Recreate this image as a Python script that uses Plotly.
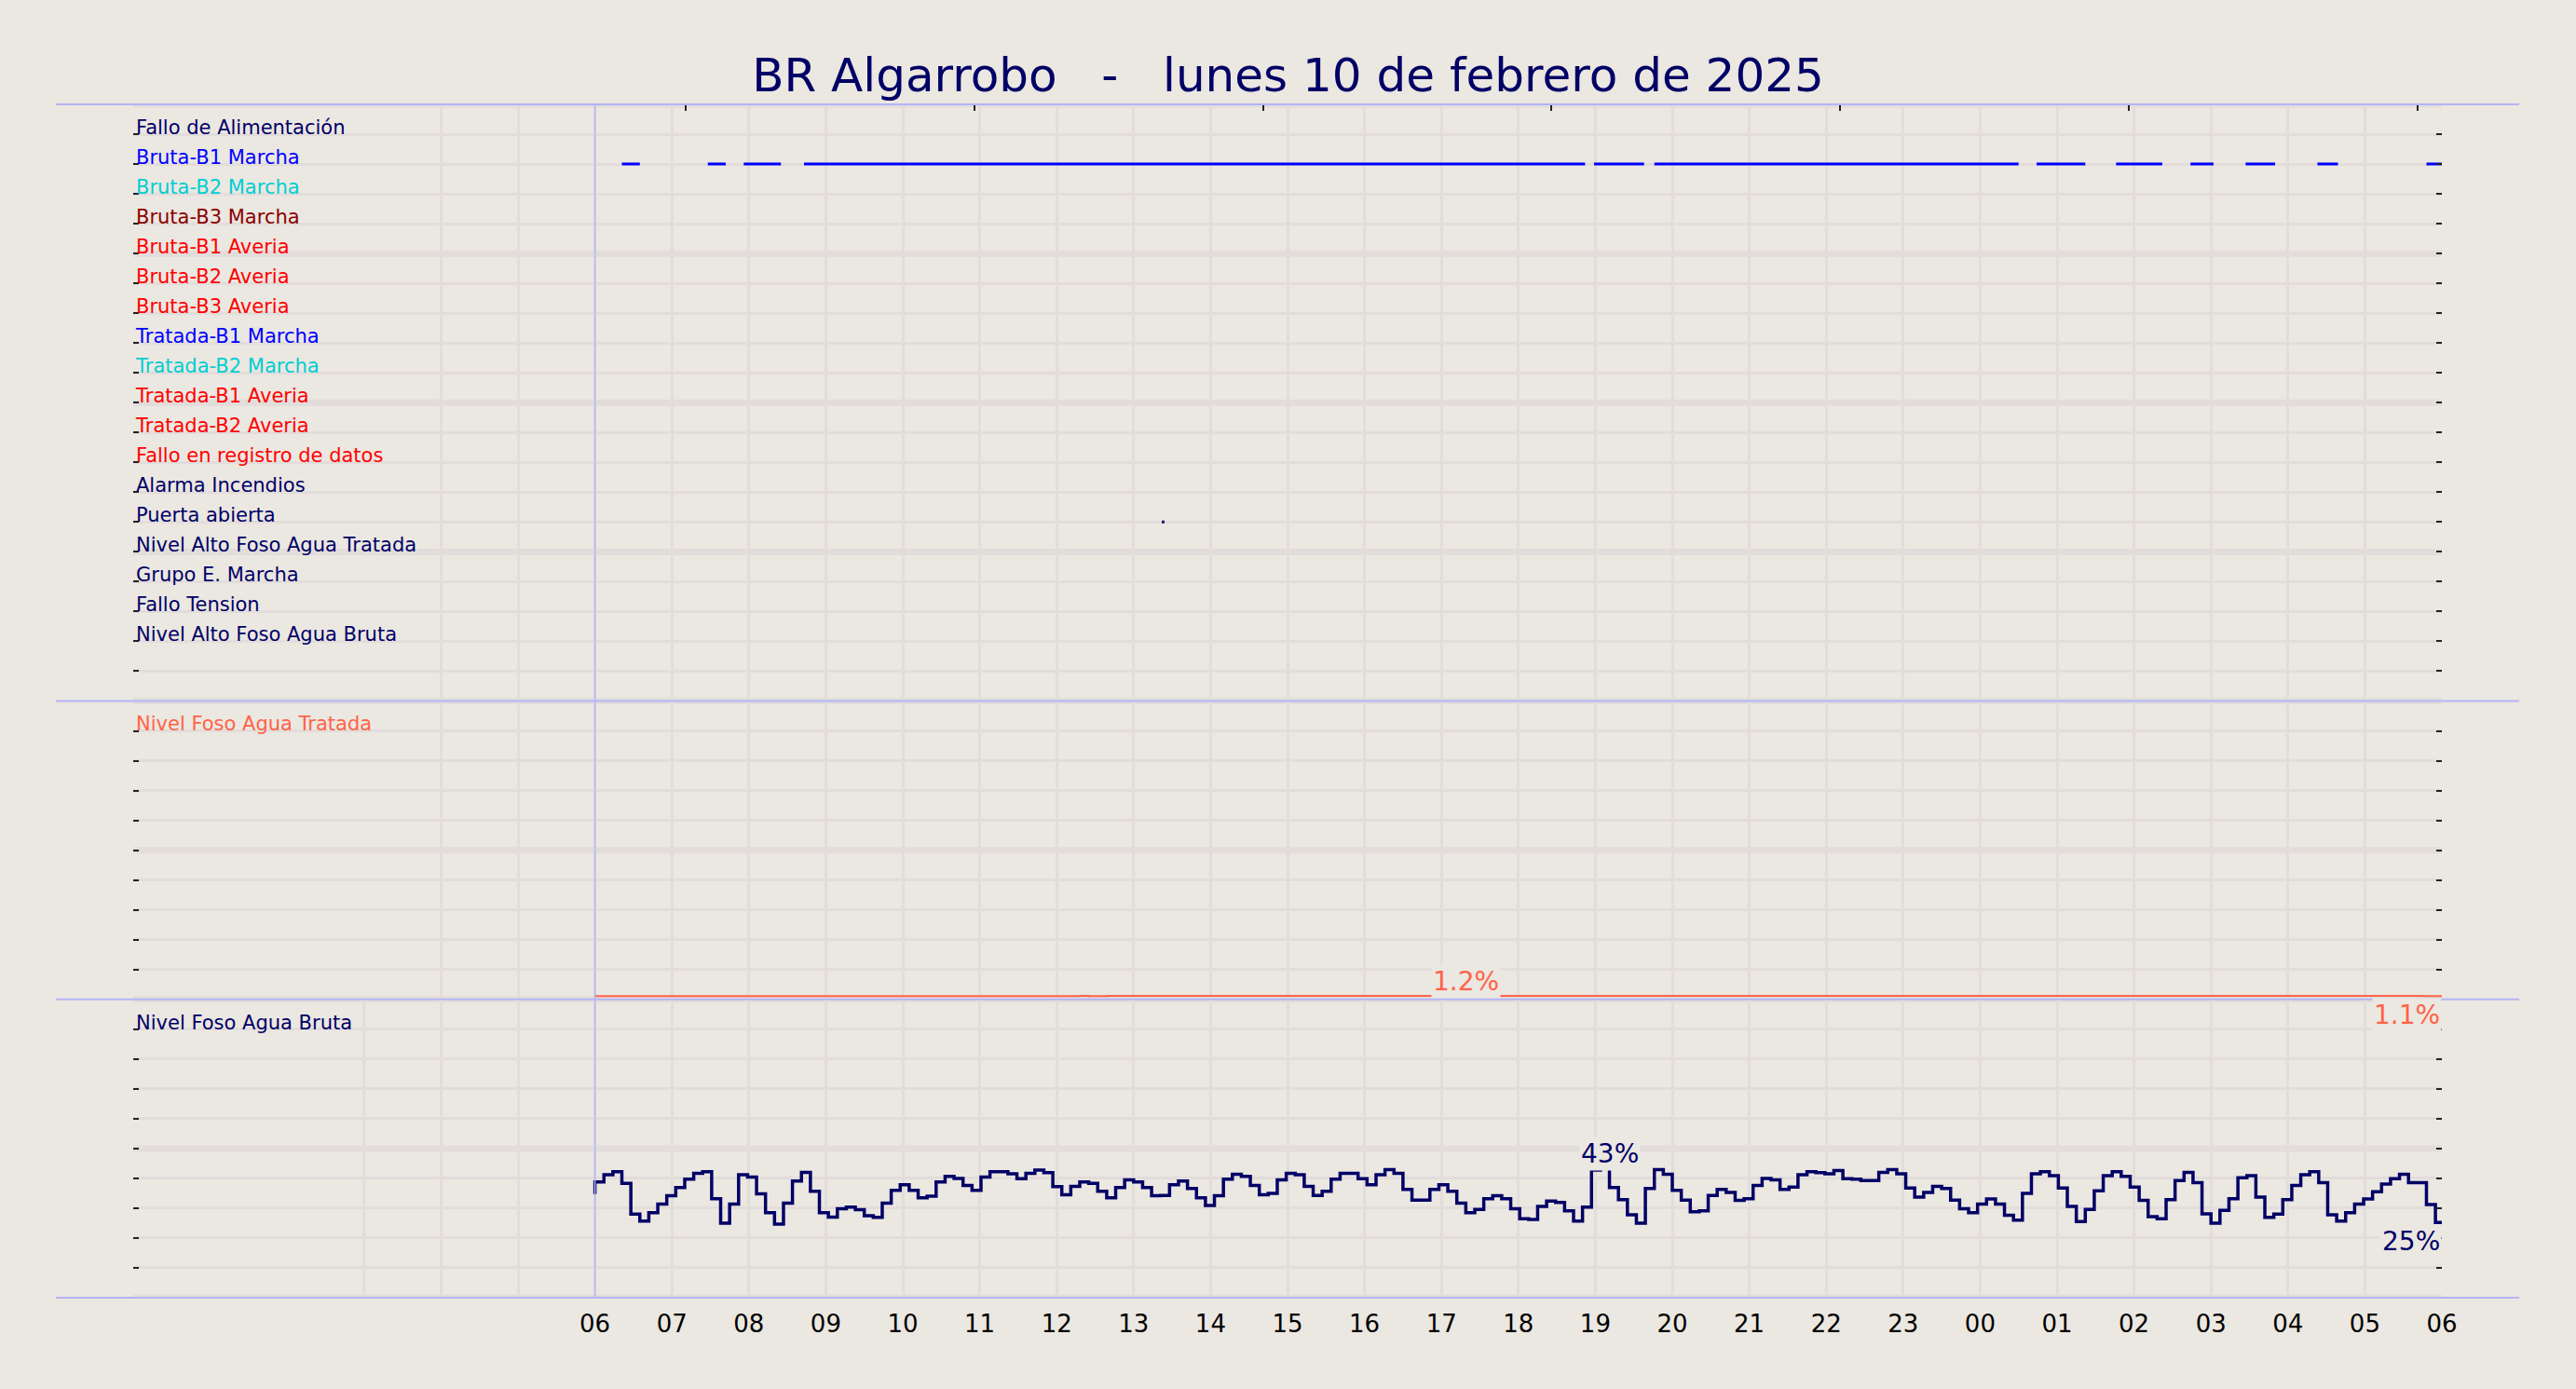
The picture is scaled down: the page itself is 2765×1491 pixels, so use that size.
import pandas as pd
import plotly.graph_objects as go
from plotly.subplots import make_subplots

# ---- colours -------------------------------------------------------------
BG = "#ebe7e1"
GRID = "#e2dddb"
SEP = "#b4b4f6"
NAVY = "#000066"
BLUE = "#0000ff"
CYAN = "#00ced1"
DARKRED = "#8b0000"
RED = "#ff0000"
TOMATO = "#ff6347"
FONT = "DejaVu Sans"

DAY0 = "2025-02-10 00:00"
DAY_START = "2025-02-10 06:00"
DAY_END = "2025-02-11 06:00"

# ---- digital signals (top to bottom, y = 19 .. 2) -------------------------
signal_labels = [
    "Fallo de Alimentación", "Bruta-B1 Marcha", "Bruta-B2 Marcha",
    "Bruta-B3 Marcha", "Bruta-B1 Averia", "Bruta-B2 Averia",
    "Bruta-B3 Averia", "Tratada-B1 Marcha", "Tratada-B2 Marcha",
    "Tratada-B1 Averia", "Tratada-B2 Averia", "Fallo en registro de datos",
    "Alarma Incendios", "Puerta abierta", "Nivel Alto Foso Agua Tratada",
    "Grupo E. Marcha", "Fallo Tension", "Nivel Alto Foso Agua Bruta",
]
signal_colors = [
    NAVY, BLUE, CYAN, DARKRED, RED, RED, RED, BLUE, CYAN, RED, RED, RED,
    NAVY, NAVY, NAVY, NAVY, NAVY, NAVY,
]

# periods in which the signal was active
bruta_b1_marcha_on = [
    ("2025-02-10 06:21", "2025-02-10 06:35"),
    ("2025-02-10 07:28", "2025-02-10 07:42"),
    ("2025-02-10 07:56", "2025-02-10 08:25"),
    ("2025-02-10 08:43", "2025-02-10 18:52"),
    ("2025-02-10 18:59", "2025-02-10 19:38"),
    ("2025-02-10 19:46", "2025-02-11 00:30"),
    ("2025-02-11 00:44", "2025-02-11 01:22"),
    ("2025-02-11 01:46", "2025-02-11 02:22"),
    ("2025-02-11 02:44", "2025-02-11 03:02"),
    ("2025-02-11 03:27", "2025-02-11 03:50"),
    ("2025-02-11 04:23", "2025-02-11 04:39"),
    ("2025-02-11 05:48", "2025-02-11 06:00"),
]
puerta_abierta_on = [
    ("2025-02-10 13:22", "2025-02-10 13:24"),
]

# ---- levels (%) ----------------------------------------------------------
tratada_times = [
    "2025-02-10 06:00", "2025-02-10 12:18", "2025-02-10 12:25",
    "2025-02-10 12:40", "2025-02-10 17:12", "2025-02-10 17:19",
    "2025-02-11 05:46", "2025-02-11 06:00",
]
tratada_level = [1.10, 1.20, 1.10, 1.20, 1.22, 1.20, 1.10, 1.10]

# raw water pit: one reading every 7 minutes from 06:00
bruta_first = 34.7
bruta_level = [
    38.8, 41.2, 42.2, 38.3, 28.0, 25.7, 28.5, 31.4, 34.2, 36.9, 39.7, 41.7,
    42.2, 33.2, 25.0, 31.4, 41.2, 40.4, 34.8, 28.5, 24.7, 31.7, 39.1, 42.0,
    35.7, 28.5, 27.0, 29.8, 30.4, 29.5, 27.5, 26.9, 31.7, 36.0, 37.9, 36.0,
    33.5, 34.0, 38.8, 40.7, 40.0, 37.6, 36.0, 40.4, 42.2, 42.2, 41.5, 39.9,
    41.7, 42.8, 41.9, 37.2,
    34.5, 37.3, 38.8, 38.3, 35.7, 33.5, 36.9, 39.5, 38.8, 36.9, 34.2, 34.3,
    37.9, 39.1, 36.6, 33.5, 30.9, 34.2, 39.7, 41.4, 40.7, 37.6, 34.5, 35.0,
    39.5, 41.7, 41.2, 37.3, 34.3, 35.7, 39.7, 41.7, 41.7, 39.9, 37.9, 41.2,
    42.9, 41.7, 36.3, 32.7, 32.7, 36.3, 37.9, 35.7, 31.7, 28.5, 29.6, 33.2,
    34.2, 33.2, 29.8,
    26.5, 26.2, 30.6, 32.4, 31.9, 29.1, 25.7, 30.4, 42.8, 43.3, 36.9, 32.9,
    27.8, 25.0, 36.6, 42.9, 41.4, 36.0, 32.7, 28.8, 29.1, 34.3, 36.3, 35.3,
    32.6, 33.2, 37.6, 40.0, 39.5, 36.3, 37.1, 41.2, 42.2, 41.9, 41.5, 42.6,
    39.9, 39.7, 39.3, 39.3, 42.0, 42.9, 41.5, 36.8, 33.7, 35.3, 37.3, 36.6,
    32.7, 29.8, 28.5, 31.4,
    33.1, 31.4, 27.6, 26.0, 35.0, 41.5, 42.2, 40.9, 36.8, 30.6, 25.5, 29.6,
    35.8, 40.9, 42.2, 40.7, 37.1, 32.6, 27.2, 26.5, 32.9, 39.3, 42.0, 38.6,
    28.1, 25.0, 29.3, 33.2, 40.2, 40.9, 33.7, 26.9, 28.0, 32.9, 37.6, 41.2,
    42.2, 38.6, 27.8, 25.7, 28.5, 31.4, 33.1, 35.5, 38.1, 39.9, 41.4, 38.6,
    38.6, 31.2, 25.2,
]

# ---- helpers ---------------------------------------------------------------
def on_segments(periods, level):
    xs, ys = [], []
    for a, b in periods:
        xs += [a, b, None]
        ys += [level, level, None]
    return xs, ys


bruta_times = list(pd.date_range(DAY_START, periods=len(bruta_level), freq="7min"))
bruta_x = [pd.Timestamp(DAY_START)] + bruta_times + [pd.Timestamp(DAY_END)]
bruta_y = [bruta_first] + bruta_level + [bruta_level[-1]]

fig = make_subplots(rows=3, cols=1, shared_xaxes=True, vertical_spacing=0,
                    row_heights=[0.5, 0.25, 0.25])

n_sig = len(signal_labels)
row_of = {lab: n_sig + 1 - i for i, lab in enumerate(signal_labels)}

x, y = on_segments(bruta_b1_marcha_on, row_of["Bruta-B1 Marcha"])
fig.add_trace(go.Scatter(x=x, y=y, mode="lines", line=dict(color=BLUE, width=3),
                         name="Bruta-B1 Marcha"), row=1, col=1)
x, y = on_segments(puerta_abierta_on, row_of["Puerta abierta"])
fig.add_trace(go.Scatter(x=x, y=y, mode="lines", line=dict(color=NAVY, width=3),
                         name="Puerta abierta"), row=1, col=1)

fig.add_trace(go.Scatter(x=pd.to_datetime(tratada_times), y=tratada_level,
                         mode="lines", line=dict(color=TOMATO, width=2, shape="hv"),
                         name="Nivel Foso Agua Tratada"), row=2, col=1)
fig.add_trace(go.Scatter(x=bruta_x, y=bruta_y, mode="lines",
                         line=dict(color=NAVY, width=3.5, shape="hv"),
                         name="Nivel Foso Agua Bruta"), row=3, col=1)

# dummy trace so the top tick axis gets drawn
fig.add_trace(go.Scatter(x=[], y=[], xaxis="x4", yaxis="y", showlegend=False,
                         hoverinfo="skip"))

# ---- max / last value labels ---------------------------------------------
def level_labels(times, values, color, xref, yref):
    times = list(pd.to_datetime(times))
    imax = max(range(len(values)), key=lambda i: values[i])
    # max label sits where the max step ends
    t_max = times[min(imax + 1, len(times) - 1)]
    for t, v, xa, ya, ys in [(t_max, values[imax], "center", "bottom", -3),
                             (times[-1], values[-1], "right", "top", -2)]:
        fig.add_annotation(x=t, y=v, xref=xref, yref=yref, text=f"{v:.2g}%",
                           showarrow=False, xanchor=xa, yanchor=ya, yshift=ys,
                           bgcolor=BG, borderpad=1,
                           font=dict(family=FONT, size=28, color=color))


level_labels(tratada_times, tratada_level, TOMATO, "x2", "y2")
level_labels(bruta_x, bruta_y, NAVY, "x3", "y3")

# ---- axes ----------------------------------------------------------------
hours = pd.date_range(DAY0, DAY_END, freq="h")
hour_text = ["" if h < pd.Timestamp(DAY_START) else h.strftime("%H") for h in hours]

fig.update_xaxes(range=[DAY0, DAY_END], tickvals=list(hours), ticktext=hour_text,
                 showgrid=True, gridcolor=GRID, gridwidth=2.5, zeroline=False,
                 ticks="", showline=False, ticklabelstandoff=10,
                 tickfont=dict(family=FONT, size=26, color="black"))

yaxis_common = dict(showgrid=True, gridcolor=GRID, gridwidth=2.5, zeroline=False,
                    ticks="inside", ticklen=6, tickwidth=1.5, tickcolor="#222222",
                    mirror="ticks", showline=False, ticklabelposition="inside top",
                    ticklabelshift=8,
                    tickfont=dict(family=FONT, size=21))

top_vals = list(range(0, n_sig + 3))
top_text = ["", ""] + [f"<span style='color:{c}'>{l}</span>"
                       for l, c in zip(signal_labels[::-1], signal_colors[::-1])] + [""]
fig.update_yaxes(range=[0, n_sig + 2], tickvals=top_vals, ticktext=top_text,
                 row=1, col=1, **yaxis_common)

pct_vals = list(range(0, 100, 10))
fig.update_yaxes(range=[0, 100], tickvals=pct_vals,
                 ticktext=[f"<span style='color:{TOMATO}'>Nivel Foso Agua Tratada</span>"
                           if v == 90 else "" for v in pct_vals],
                 row=2, col=1, **yaxis_common)
fig.update_yaxes(range=[0, 100], tickvals=pct_vals,
                 ticktext=[f"<span style='color:{NAVY}'>Nivel Foso Agua Bruta</span>"
                           if v == 90 else "" for v in pct_vals],
                 row=3, col=1, **yaxis_common)

# ---- grid bands, separators, start-of-day line ----------------------------
shapes = []
for yref, vals in [("y", [0, 5, 10, 15, 20]), ("y2", [0, 50, 100]), ("y3", [0, 50, 100])]:
    for v in vals:
        shapes.append(dict(type="line", xref="paper", yref=yref, x0=0, x1=1,
                           y0=v, y1=v, layer="below",
                           line=dict(color=GRID, width=7)))
for p in [0, 0.25, 0.5, 1.0]:
    shapes.append(dict(type="line", xref="paper", yref="paper", x0=-0.0335,
                       x1=1.0335, y0=p, y1=p, line=dict(color=SEP, width=2)))
shapes.append(dict(type="line", xref="x3", yref="paper", x0=DAY_START,
                   x1=DAY_START, y0=0, y1=1, line=dict(color=SEP, width=1.5)))

fig.update_layout(
    width=2765, height=1491,
    margin=dict(l=143, r=144, t=112, b=98),
    paper_bgcolor=BG, plot_bgcolor=BG,
    showlegend=False,
    shapes=shapes,
    font=dict(family=FONT),
    title=dict(text="BR Algarrobo   -   lunes 10 de febrero de 2025",
               x=0.5, xanchor="center", y=0.946, yanchor="middle",
               font=dict(family=FONT, size=50, color=NAVY)),
    xaxis4=dict(overlaying="x", anchor="y", side="top", range=[0, 8],
                tick0=0.915, dtick=1, ticks="inside", ticklen=7, tickwidth=1.5,
                tickcolor="#222222", showticklabels=False, showgrid=False,
                zeroline=False, showline=False),
)

# page without the default body margin so the figure fills the window
fig.write_html("out.html", config={"displayModeBar": False},
               post_script="document.body.style.margin='0';"
                           f"document.body.style.background='{BG}';")
